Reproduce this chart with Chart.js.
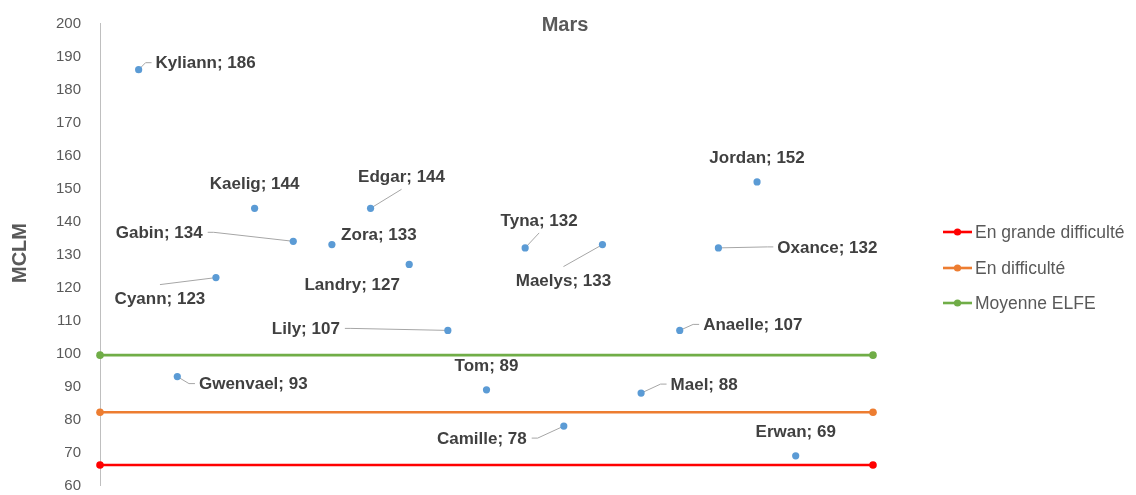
<!DOCTYPE html>
<html>
<head>
<meta charset="utf-8">
<script src="https://cdn.jsdelivr.net/npm/chart.js@4.4.1/dist/chart.umd.min.js"></script>
<style>
  html, body { margin: 0; padding: 0; background: #ffffff; }
  #wrap { width: 1136px; height: 495px; }
</style>
</head>
<body>
<div id="wrap"><canvas id="c" width="1136" height="495"></canvas></div>
<script>
// ---- data ----
const chartTitle = 'Mars';
const yAxisTitle = 'MCLM';
const names  = ['Kyliann','Gwenvael','Cyann','Kaelig','Gabin','Zora','Edgar','Landry','Lily','Tom','Tyna','Camille','Maelys','Mael','Anaelle','Oxance','Jordan','Erwan'];
const xIndex = [1,2,3,4,5,6,7,8,9,10,11,12,13,14,15,16,17,18];
const scores = [186,93,123,144,134,133,144,127,107,89,132,78,133,88,107,132,152,69];
const thresholdNames  = ['En grande difficulté','En difficulté','Moyenne ELFE'];
const thresholdValues = [66.2, 82.2, 99.5];
const thresholdX = [0, 20];
const yMin = 60, yMax = 200, yStep = 10;

// ---- label placement (style, not data): [dx, dy, leader side] ----
const labelPlacement = [
  [67,-6,'l'],[76,8,'l'],[-56,22,'t'],[0,-24,''],[-134,-8,'r'],[47,-9,''],
  [31,-31,'b'],[-57,21,''],[-142,-1,'r'],[0,-23,''],[14,-27,'b'],[-82,13,'r'],
  [-39,37,'t'],[63,-8,'l'],[73,-5,'l'],[109,0,'l'],[0,-24,''],[0,-23,'']
];
const lineColors = ['#FF0000','#ED7D31','#70AD47'];
const pointColor = '#5B9BD5';
const FONT = '"Liberation Sans", Arial, sans-serif';

const datasets = [{
  label: 'Élèves',
  data: xIndex.map((x, i) => ({ x: x, y: scores[i] })),
  showLine: false,
  pointRadius: 3.6,
  pointBackgroundColor: pointColor,
  pointBorderWidth: 0,
  clip: false
}];
thresholdNames.forEach((n, i) => {
  datasets.push({
    label: n,
    data: thresholdX.map(x => ({ x: x, y: thresholdValues[i] })),
    showLine: true,
    borderColor: lineColors[i],
    backgroundColor: lineColors[i],
    borderWidth: 2.6,
    pointRadius: 3.8,
    pointBackgroundColor: lineColors[i],
    pointBorderWidth: 0,
    clip: false
  });
});

const decorPlugin = {
  id: 'decor',
  beforeDatasetsDraw(chart) {
    const ctx = chart.ctx;
    const meta = chart.getDatasetMeta(0);
    ctx.save();
    ctx.font = 'bold 17px ' + FONT;
    ctx.strokeStyle = '#A6A6A6';
    ctx.lineWidth = 1;
    meta.data.forEach((pt, i) => {
      const [dx, dy, side] = labelPlacement[i];
      if (!side) return;
      const text = names[i] + '; ' + scores[i];
      const w = ctx.measureText(text).width;
      const cx = pt.x + dx, cy = pt.y + dy;
      ctx.beginPath();
      ctx.moveTo(pt.x, pt.y);
      if (side === 'l') {
        const ax = cx - w / 2 - 4, ay = cy - 1;
        ctx.lineTo(ax - 6, ay); ctx.lineTo(ax, ay);
      } else if (side === 'r') {
        const ax = cx + w / 2 + 5, ay = cy - 1;
        ctx.lineTo(ax + 6, ay); ctx.lineTo(ax, ay);
      } else if (side === 't') {
        ctx.lineTo(cx, cy - 15);
      } else if (side === 'b') {
        ctx.lineTo(cx, cy + 12);
      }
      ctx.stroke();
    });
    ctx.restore();
  },
  afterDatasetsDraw(chart) {
    const ctx = chart.ctx;
    const meta = chart.getDatasetMeta(0);
    ctx.save();
    // data labels
    ctx.font = 'bold 17px ' + FONT;
    ctx.fillStyle = '#404040';
    ctx.textAlign = 'center';
    ctx.textBaseline = 'middle';
    meta.data.forEach((pt, i) => {
      const [dx, dy] = labelPlacement[i];
      ctx.fillText(names[i] + '; ' + scores[i], pt.x + dx, pt.y + dy);
    });
    // title
    ctx.font = 'bold 20px ' + FONT;
    ctx.fillStyle = '#595959';
    ctx.fillText(chartTitle, 565, 25);
    // y axis title
    ctx.save();
    ctx.translate(20, 253);
    ctx.rotate(-Math.PI / 2);
    ctx.fillText(yAxisTitle, 0, 0);
    ctx.restore();
    // legend
    ctx.font = '17.5px ' + FONT;
    ctx.textAlign = 'left';
    const ys = [232, 268, 303];
    thresholdNames.forEach((n, i) => {
      const y = ys[i];
      ctx.strokeStyle = lineColors[i];
      ctx.lineWidth = 2.6;
      ctx.beginPath(); ctx.moveTo(943, y); ctx.lineTo(972, y); ctx.stroke();
      ctx.fillStyle = lineColors[i];
      ctx.beginPath(); ctx.arc(957.5, y, 3.6, 0, Math.PI * 2); ctx.fill();
      ctx.fillStyle = '#595959';
      ctx.fillText(n, 975, y + 1);
    });
    ctx.restore();
  }
};

new Chart(document.getElementById('c'), {
  type: 'scatter',
  data: { datasets: datasets },
  options: {
    responsive: false,
    animation: false,
    devicePixelRatio: 1,
    layout: { padding: { left: 0, right: 263, top: 23.5, bottom: 9.5 } },
    plugins: { legend: { display: false }, title: { display: false }, tooltip: { enabled: false } },
    scales: {
      x: { type: 'linear', min: thresholdX[0], max: thresholdX[1], display: false },
      y: {
        type: 'linear', min: yMin, max: yMax,
        afterFit(scale) { scale.width = 100; },
        ticks: { stepSize: yStep, padding: 0, color: '#595959', font: { family: FONT, size: 15 } },
        grid: { display: true, drawOnChartArea: false, drawTicks: true, tickLength: 19, tickColor: 'rgba(0,0,0,0)' },
        border: { display: true, color: '#BFBFBF', width: 1 }
      }
    }
  },
  plugins: [decorPlugin]
});
</script>
</body>
</html>
